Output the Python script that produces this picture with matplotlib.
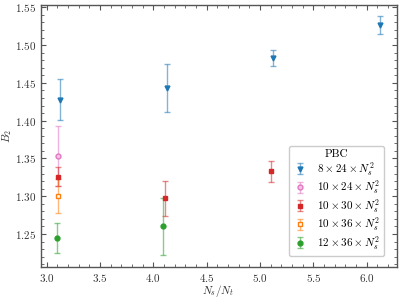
import matplotlib.pyplot as plt
import numpy as np

plt.rcParams['font.family'] = 'serif'
plt.rcParams['font.serif'] = ['cmr10', 'DejaVu Serif']
plt.rcParams['mathtext.fontset'] = 'cm'
plt.rcParams['axes.formatter.use_mathtext'] = True
plt.rcParams['font.size'] = 8

# 8 x 24 x Ns^2
x_8_24 = [3.125, 4.125, 5.125, 6.12]
y_8_24 = [1.428, 1.443, 1.483, 1.527]
e_8_24 = [0.027, 0.032, 0.011, 0.012]

# 10 x 24 x Ns^2
x_10_24 = [3.11]
y_10_24 = [1.353]
e_10_24 = [0.040]

# 10 x 30 x Ns^2
x_10_30 = [3.11, 4.11, 5.10]
y_10_30 = [1.326, 1.297, 1.333]
e_10_30 = [0.0125, 0.023, 0.014]

# 10 x 36 x Ns^2
x_10_36 = [3.11]
y_10_36 = [1.300]
e_10_36 = [0.0225]

# 12 x 36 x Ns^2
x_12_36 = [3.097, 4.09]
y_12_36 = [1.245, 1.260]
e_12_36 = [0.0195, 0.038]

fig = plt.figure(figsize=(3.99, 2.99), dpi=100)
ax = fig.add_axes([0.102, 0.108, 0.892, 0.875])


def plot_set(x, y, e, color, marker, label, mfc=None):
    eb = ax.errorbar(x, y, yerr=e, color=color, marker=marker, ms=3.5,
                     ls='none', capsize=2.5, elinewidth=1.0, capthick=1.0,
                     mfc=mfc if mfc is not None else color, mec=color,
                     label=label)
    for part in eb[1] + eb[2]:
        part.set_alpha(0.55)
    return eb


plot_set(x_8_24, y_8_24, e_8_24, '#1f77b4', 'v', r'$8 \times 24 \times N_s^2$')
plot_set(x_10_24, y_10_24, e_10_24, '#e377c2', 'o', r'$10 \times 24 \times N_s^2$', mfc='#f4c4e6')
plot_set(x_10_30, y_10_30, e_10_30, '#d62728', 's', r'$10 \times 30 \times N_s^2$')
plot_set(x_10_36, y_10_36, e_10_36, '#ff7f0e', 's', r'$10 \times 36 \times N_s^2$', mfc='white')
plot_set(x_12_36, y_12_36, e_12_36, '#2ca02c', 'o', r'$12 \times 36 \times N_s^2$')

ax.set_xlim(2.944, 6.28)
ax.set_ylim(1.2067, 1.553)
ax.set_xticks(np.arange(3.0, 6.01, 0.5))
ax.set_yticks(np.arange(1.25, 1.551, 0.05))
ax.minorticks_on()
ax.tick_params(which='both', direction='in', top=True, right=True, colors='#555555',
               labelcolor='#333333')
ax.tick_params(which='major', length=3.5, width=0.8)
ax.tick_params(which='minor', length=2, width=0.6)
for s in ax.spines.values():
    s.set_color('#555555')
    s.set_linewidth(1.0)

ax.set_xlabel(r'$N_s/N_t$', color='#333333')
ax.set_ylabel(r'$B_2$', color='#333333')
ax.xaxis.set_label_coords(0.498, -0.064)
ax.yaxis.set_label_coords(-0.075, 0.5)

leg = ax.legend(title='PBC', loc='lower right', fontsize=8, title_fontsize=8,
                frameon=True, fancybox=True, edgecolor='#cccccc', framealpha=1,
                labelspacing=0.1, handlelength=1.3, handletextpad=0.9,
                borderpad=0.35, bbox_to_anchor=(0.98, 0.02))

fig.savefig('out.png', dpi=100)
